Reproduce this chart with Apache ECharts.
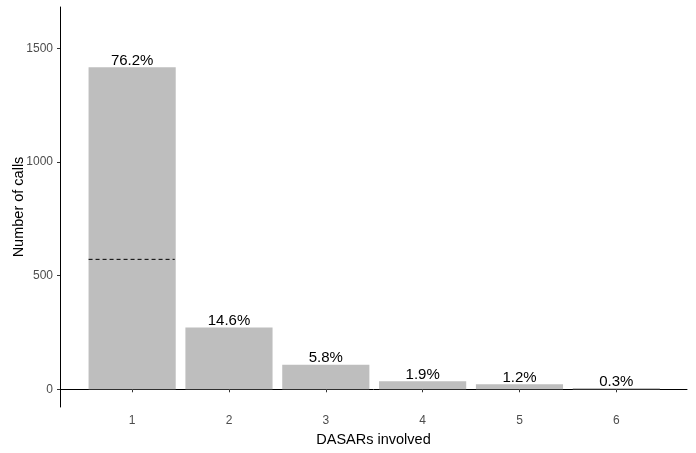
<!DOCTYPE html>
<html>
<head>
<meta charset="utf-8">
<title>DASARs involved</title>
<script src="https://cdn.jsdelivr.net/npm/echarts@6/dist/echarts.min.js"></script>
<style>
  html, body { margin: 0; padding: 0; background: #fff; }
  #chart { width: 696px; height: 453px; }
</style>
</head>
<body>
<div id="chart"></div>
<script>
// data
const categories = [1, 2, 3, 4, 5, 6]
const calls = [1418, 272, 108, 35, 22, 6]
const pctLabels = ['76.2%', '14.6%', '5.8%', '1.9%', '1.2%', '0.3%']
const dashedValue = 572
const yTicks = [0, 500, 1000, 1500]

const FONT = '"Liberation Sans", Arial, sans-serif'
const BAR_W = 0.9

const chart = echarts.init(document.getElementById('chart'))

// bars drawn through the axis scales (custom series so width is in data units)
const renderBar = (params, api) => {
  const x = api.value(0)
  const v = api.value(1)
  const topLeft = api.coord([x - BAR_W / 2, v])
  const bottomRight = api.coord([x + BAR_W / 2, 0])
  const rectH = Math.max(bottomRight[1] - topLeft[1], 1)
  return {
    type: 'group',
    children: [
      {
        type: 'rect',
        shape: { x: topLeft[0], y: bottomRight[1] - rectH, width: bottomRight[0] - topLeft[0], height: rectH },
        style: { fill: '#bebebe' }
      },
      {
        type: 'text',
        style: {
          text: pctLabels[params.dataIndex],
          x: (topLeft[0] + bottomRight[0]) / 2,
          y: bottomRight[1] - rectH + 1,
          align: 'center',
          verticalAlign: 'bottom',
          fill: '#000',
          font: '15px ' + FONT
        }
      }
    ]
  }
}

const option = {
  animation: false,
  grid: { left: 60, right: 9, top: 7, bottom: 46, containLabel: false, outerBoundsMode: 'none' },
  xAxis: {
    type: 'value',
    min: 0.255,
    max: 6.73,
    name: 'DASARs involved',
    nameLocation: 'middle',
    nameGap: 25,
    nameMoveOverlap: false,
    nameTextStyle: { fontFamily: FONT, fontSize: 14.5, color: '#000' },
    axisLine: { show: true, lineStyle: { color: '#000', width: 1 } },
    axisTick: { show: true, length: 3, customValues: categories, lineStyle: { color: '#333' } },
    axisLabel: { customValues: categories, margin: 8, fontFamily: FONT, fontSize: 12, color: '#4d4d4d', formatter: v => String(v) },
    splitLine: { show: false }
  },
  yAxis: {
    type: 'value',
    min: -78,
    max: 1683,
    name: 'Number of calls',
    nameLocation: 'middle',
    nameGap: 34,
    nameMoveOverlap: false,
    nameTextStyle: { fontFamily: FONT, fontSize: 14.5, color: '#000' },
    axisLine: { show: true, lineStyle: { color: '#000', width: 1 } },
    axisTick: { show: true, length: 3, customValues: yTicks, lineStyle: { color: '#333' } },
    axisLabel: { customValues: yTicks, margin: 7, fontFamily: FONT, fontSize: 12, color: '#4d4d4d', formatter: v => String(v) },
    splitLine: { show: false }
  },
  series: [
    {
      type: 'custom',
      renderItem: renderBar,
      data: categories.map((c, i) => [c, calls[i]]),
      z: 2
    },
    {
      type: 'line',
      data: [[1 - BAR_W / 2, dashedValue], [1 + BAR_W / 2 - 0.01, dashedValue]],
      symbol: 'none',
      lineStyle: { color: '#000', width: 1, type: [4, 3] },
      z: 3
    }
  ]
}

chart.setOption(option)
</script>
</body>
</html>
